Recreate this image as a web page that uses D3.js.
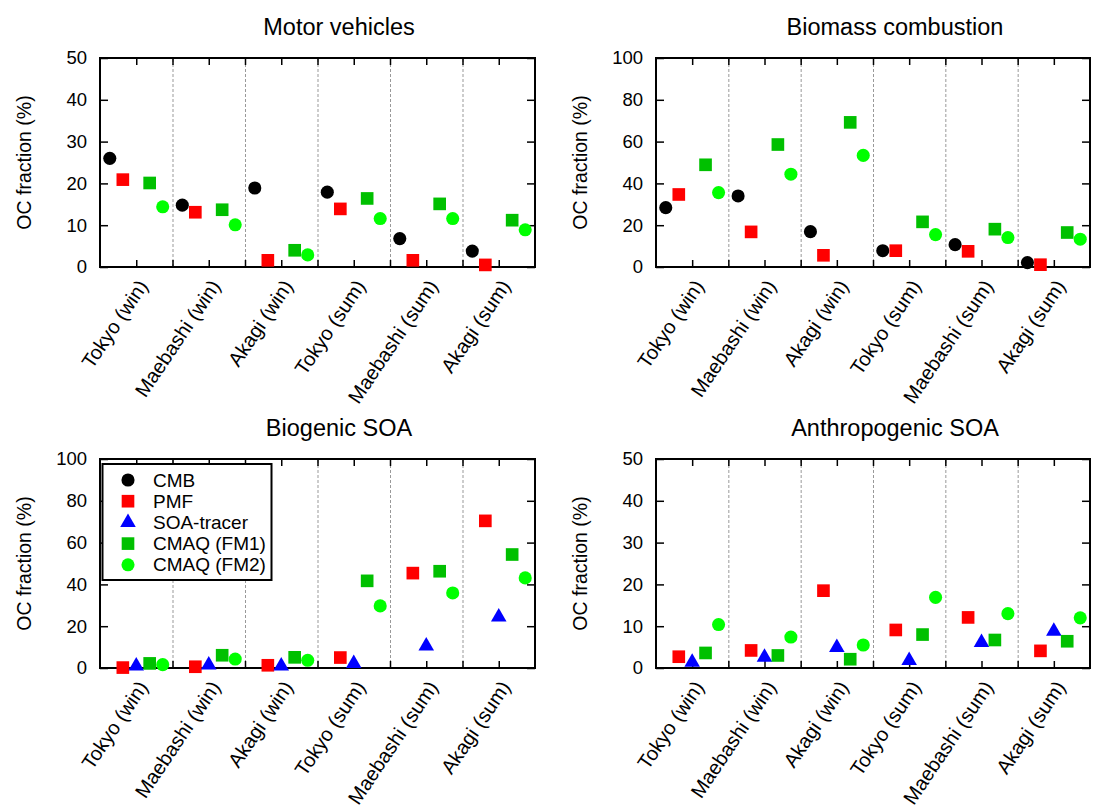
<!DOCTYPE html>
<html>
<head>
<meta charset="utf-8">
<script src="https://cdn.jsdelivr.net/npm/d3@7"></script>
<style>
  html, body { margin: 0; padding: 0; background: #fff; }
  svg { display: block; font-family: Arial, "Liberation Sans", sans-serif; }
</style>
</head>
<body>
<svg id="chart" width="1096" height="809"></svg>
<script>
// ---------- data ----------
const categories = ["Tokyo (win)", "Maebashi (win)", "Akagi (win)", "Tokyo (sum)", "Maebashi (sum)", "Akagi (sum)"];
const methods = ["CMB", "PMF", "SOA-tracer", "CMAQ (FM1)", "CMAQ (FM2)"];
const panelTitles = ["Motor vehicles", "Biomass combustion", "Biogenic SOA", "Anthropogenic SOA"];
const panelYMax = [50, 100, 100, 50];
const panelYTicks = [[0, 10, 20, 30, 40, 50], [0, 20, 40, 60, 80, 100], [0, 20, 40, 60, 80, 100], [0, 10, 20, 30, 40, 50]];
const yLabel = "OC fraction (%)";

// Motor vehicles
const motorCMB = [26.0, 14.8, 18.9, 17.9, 6.8, 3.8];
const motorPMF = [20.9, 13.1, 1.6, 13.9, 1.6, 0.5];
const motorSOA = [null, null, null, null, null, null];
const motorFM1 = [20.1, 13.7, 4.0, 16.4, 15.1, 11.2];
const motorFM2 = [14.4, 10.1, 2.9, 11.6, 11.6, 8.9];
// Biomass combustion
const biomassCMB = [28.4, 34.0, 16.9, 7.8, 10.7, 2.1];
const biomassPMF = [34.7, 16.8, 5.6, 7.8, 7.5, 1.1];
const biomassSOA = [null, null, null, null, null, null];
const biomassFM1 = [48.9, 58.6, 69.2, 21.6, 18.1, 16.5];
const biomassFM2 = [35.6, 44.4, 53.4, 15.5, 14.1, 13.3];
// Biogenic SOA
const biogenicCMB = [null, null, null, null, null, null];
const biogenicPMF = [0.2, 0.6, 1.3, 5.0, 45.4, 70.4];
const biogenicSOA = [1.0, 1.4, 1.0, 2.1, 10.5, 24.4];
const biogenicFM1 = [2.2, 6.1, 5.1, 41.7, 46.3, 54.3];
const biogenicFM2 = [1.6, 4.3, 3.7, 29.7, 35.9, 43.1];
// Anthropogenic SOA
const anthroCMB = [null, null, null, null, null, null];
const anthroPMF = [2.7, 4.2, 18.5, 9.1, 12.1, 4.1];
const anthroSOA = [1.4, 2.6, 4.9, 1.8, 6.1, 8.8];
const anthroFM1 = [3.6, 3.0, 2.1, 8.0, 6.7, 6.4];
const anthroFM2 = [10.4, 7.4, 5.5, 16.9, 13.0, 12.0];

const panelSeries = [
  [motorCMB, motorPMF, motorSOA, motorFM1, motorFM2],
  [biomassCMB, biomassPMF, biomassSOA, biomassFM1, biomassFM2],
  [biogenicCMB, biogenicPMF, biogenicSOA, biogenicFM1, biogenicFM2],
  [anthroCMB, anthroPMF, anthroSOA, anthroFM1, anthroFM2]
];

// ---------- styles ----------
const methodColors = ["#000000", "#ff0000", "#0000ff", "#00c000", "#00ff00"];
const methodSymbols = [d3.symbolCircle, d3.symbolSquare, d3.symbolTriangle, d3.symbolSquare, d3.symbolCircle];
const methodSizes = [135, 160, 105, 160, 135];
const methodOffsets = [-0.365, -0.185, 0, 0.185, 0.365];

const panels = [
  { left: 100, right: 535, top: 58, bottom: 267, titleX: 339, ylabX: 24 },
  { left: 656, right: 1090, top: 58, bottom: 267, titleX: 895, ylabX: 580 },
  { left: 100, right: 535, top: 459, bottom: 668, titleX: 339, ylabX: 24 },
  { left: 656, right: 1090, top: 459, bottom: 668, titleX: 895, ylabX: 580 }
];

const svg = d3.select("#chart");

panels.forEach((p, pi) => {
  const g = svg.append("g");
  const x = d3.scaleLinear().domain([0, categories.length]).range([p.left, p.right]);
  const y = d3.scaleLinear().domain([0, panelYMax[pi]]).range([p.bottom, p.top]);
  const h = p.bottom - p.top;

  // title
  g.append("text")
    .attr("x", p.titleX).attr("y", p.top - 23)
    .attr("text-anchor", "middle")
    .attr("font-size", 23.5)
    .attr("fill", "#000")
    .text(panelTitles[pi]);

  // y label
  g.append("text")
    .attr("transform", `translate(${p.ylabX},${(p.top + p.bottom) / 2}) rotate(-90)`)
    .attr("text-anchor", "middle")
    .attr("dominant-baseline", "central")
    .attr("font-size", 19.5)
    .attr("fill", "#000")
    .text(yLabel);

  // dashed separators
  const sep = g.append("g")
    .attr("transform", `translate(0,${p.bottom})`)
    .call(d3.axisBottom(x).tickValues(d3.range(1, categories.length)).tickSize(-h).tickFormat(""));
  sep.select(".domain").remove();
  sep.selectAll("line").attr("stroke", "#999").attr("stroke-width", 1).attr("stroke-dasharray", "3,2");

  // x ticks (half group), bottom with labels
  const halfTicks = d3.range(0.5, categories.length, 0.5);
  const xb = g.append("g")
    .attr("transform", `translate(0,${p.bottom})`)
    .call(d3.axisBottom(x).tickValues(halfTicks).tickSizeInner(-7).tickSizeOuter(0)
      .tickFormat(d => (Math.abs(d % 1 - 0.5) < 1e-6 ? categories[Math.floor(d)] : "")));
  xb.select(".domain").remove();
  xb.selectAll("line").attr("stroke", "#000").attr("stroke-width", 1.5);
  xb.selectAll("text")
    .attr("font-size", 20)
    .attr("fill", "#000")
    .attr("text-anchor", "end")
    .attr("dy", null)
    .attr("y", null)
    .attr("transform", "translate(12,19) rotate(-56)");

  const xt = g.append("g")
    .attr("transform", `translate(0,${p.top})`)
    .call(d3.axisTop(x).tickValues(halfTicks).tickSizeInner(-7).tickSizeOuter(0).tickFormat(""));
  xt.select(".domain").remove();
  xt.selectAll("line").attr("stroke", "#000").attr("stroke-width", 1.5);

  // y axis left with labels
  const yl = g.append("g")
    .attr("transform", `translate(${p.left},0)`)
    .call(d3.axisLeft(y).tickValues(panelYTicks[pi]).tickSizeInner(-8).tickSizeOuter(0).tickPadding(13));
  yl.select(".domain").remove();
  yl.selectAll("line").attr("stroke", "#000").attr("stroke-width", 1.5);
  yl.selectAll("text").attr("font-size", 18.5).attr("fill", "#000");

  const yr = g.append("g")
    .attr("transform", `translate(${p.right},0)`)
    .call(d3.axisRight(y).tickValues(panelYTicks[pi]).tickSizeInner(-8).tickSizeOuter(0).tickFormat(""));
  yr.select(".domain").remove();
  yr.selectAll("line").attr("stroke", "#000").attr("stroke-width", 1.5);

  // legend (Biogenic SOA panel) drawn before markers
  if (pi === 2) {
    const lg = g.append("g");
    lg.append("rect")
      .attr("x", p.left + 2.5).attr("y", p.top + 5)
      .attr("width", 169).attr("height", 116)
      .attr("fill", "#fff").attr("stroke", "#000").attr("stroke-width", 2);
    methods.forEach((m, mi) => {
      const ly = p.top + 21 + mi * 21.2;
      lg.append("path")
        .attr("d", d3.symbol().type(methodSymbols[mi]).size(methodSizes[mi])())
        .attr("transform", `translate(${p.left + 28},${ly})`)
        .attr("fill", methodColors[mi]);
      lg.append("text")
        .attr("x", p.left + 53).attr("y", ly)
        .attr("dominant-baseline", "central")
        .attr("font-size", 19)
        .attr("fill", "#000")
        .text(m);
    });
  }

  // frame
  g.append("rect")
    .attr("x", p.left).attr("y", p.top)
    .attr("width", p.right - p.left).attr("height", h)
    .attr("fill", "none").attr("stroke", "#000").attr("stroke-width", 2);

  // markers
  panelSeries[pi].forEach((vals, mi) => {
    g.append("g").selectAll("path")
      .data(vals.map((v, i) => ({ v, i })).filter(d => d.v !== null))
      .join("path")
      .attr("d", d3.symbol().type(methodSymbols[mi]).size(methodSizes[mi]))
      .attr("transform", d => `translate(${x(d.i + 0.5 + methodOffsets[mi])},${y(d.v)})`)
      .attr("fill", methodColors[mi]);
  });
});
</script>
</body>
</html>
